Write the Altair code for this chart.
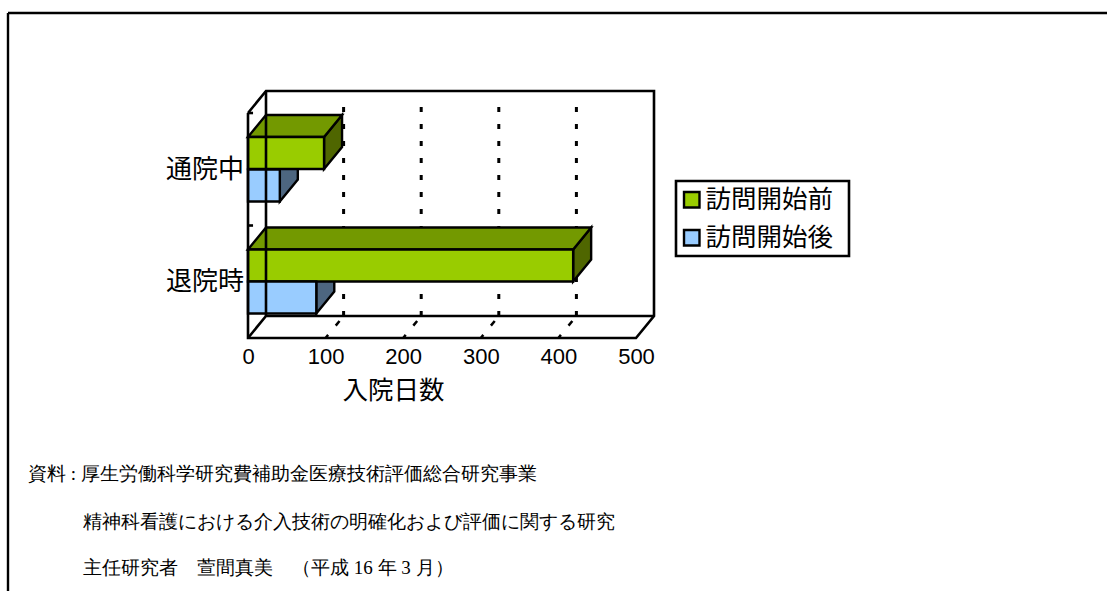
import altair as alt
import pandas as pd

# Hospital stay (days) by patient group, before and after home visits began
categories = ["通院中", "退院時"]
series = ["訪問開始前", "訪問開始後"]
values_before = [98, 419]
values_after = [41, 88]
x_ticks = [0, 100, 200, 300, 400, 500]
grid_ticks = [100, 200, 300, 400]
footnotes = [
    "資料 : 厚生労働科学研究費補助金医療技術評価総合研究事業",
    "精神科看護における介入技術の明確化および評価に関する研究",
    "主任研究者　萱間真美　（平成 16 年 3 月）",
]
footnote_x = [-220, -165, -165]
footnote_y = [382.5, 431, 477]

front_colors = ["#99CC00", "#99CCFF"]
top_color = "#739900"
side_colors = ["#4F6600", "#4D6680"]

# Plot geometry: pixels per day, and the oblique depth of the 3-D box
PX_PER_DAY = 388 / 500
DEPTH_PX_X = 18
DEPTH_PX_Y = 22
WALL_H = 225
PLOT_W = 388 + DEPTH_PX_X
PLOT_H = WALL_H + DEPTH_PX_Y
DX = DEPTH_PX_X / PX_PER_DAY
X_MAX = PLOT_W / PX_PER_DAY

x_scale = alt.Scale(domain=[0, X_MAX], range=[0, PLOT_W], nice=False, zero=False)
y_scale = alt.Scale(domain=[0, PLOT_H], range=[PLOT_H, 0], nice=False, zero=False)
x_axis = alt.Axis(
    values=x_ticks, domain=False, ticks=False, grid=False, title="入院日数",
    labelFont="Liberation Sans", labelFontSize=22, labelColor="black", labelPadding=8,
    labelOverlap=False, labelFlush=False, format="d",
    titleFont="Noto Sans CJK JP", titleFontSize=25.5, titleFontWeight="normal",
    titleColor="black", titlePadding=11, titleX=145,
)
X = lambda f="x": alt.X(f"{f}:Q", scale=x_scale, axis=x_axis)
Y = lambda f="y": alt.Y(f"{f}:Q", scale=y_scale, axis=None)

# Height above the front floor edge of each bar's lower edge
row_floor = {"通院中": {"訪問開始前": 169, "訪問開始後": 136.5},
             "退院時": {"訪問開始前": 56.5, "訪問開始後": 24.5}}
BAR_H = 32
EDGE = 2.4

bars = []
for cat, before, after in zip(categories, values_before, values_after):
    bars.append(dict(cat=cat, series=series[0], v=before, low=row_floor[cat][series[0]]))
    bars.append(dict(cat=cat, series=series[1], v=after, low=row_floor[cat][series[1]]))
bars = pd.DataFrame(bars)
bars["high"] = bars["low"] + BAR_H
bars["zero"] = 0


def side_layer(name, color):
    rows = []
    for i, row in enumerate(bars[bars.series == name].itertuples()):
        rows.append(dict(x=row.v, y=row.low, y2=row.high, bar=i))
        rows.append(dict(x=row.v + DX, y=row.low + DEPTH_PX_Y, y2=row.high + DEPTH_PX_Y, bar=i))
    return alt.Chart(pd.DataFrame(rows)).mark_area(
        orient="vertical", fill=color, stroke="black", strokeWidth=EDGE
    ).encode(x=X(), y=Y(), y2=alt.Y2("y2:Q"), detail="bar:N")


def top_layer(name, color):
    rows = []
    for i, row in enumerate(bars[bars.series == name].itertuples()):
        rows.append(dict(y=row.high, x=0, x2=row.v, bar=i))
        rows.append(dict(y=row.high + DEPTH_PX_Y, x=DX, x2=row.v + DX, bar=i))
    return alt.Chart(pd.DataFrame(rows)).mark_area(
        orient="horizontal", fill=color, stroke="black", strokeWidth=EDGE
    ).encode(x=X(), x2=alt.X2("x2:Q"), y=Y(), detail="bar:N")


# Dotted gridlines on the back wall and on the floor
back_lines = alt.Chart(pd.DataFrame(
    [dict(x=t + DX, y=DEPTH_PX_Y, y2=DEPTH_PX_Y + WALL_H - 12) for t in grid_ticks]
)).mark_rule(color="black", strokeWidth=3, strokeDash=[5, 12]).encode(
    x=X(), y=Y(), y2=alt.Y2("y2:Q")
)
floor_rows = []
for t in grid_ticks:
    floor_rows += [dict(x=t, y=0, g=t), dict(x=t + DX, y=DEPTH_PX_Y, g=t)]
floor_lines = alt.Chart(pd.DataFrame(floor_rows)).mark_line(
    color="black", strokeWidth=2.5, strokeDash=[4, 12, 6, 30]
).encode(x=X(), y=Y(), detail="g:N")

# Outline of the open box: left wall, floor and back wall
box_paths = {
    "outer": [(0, WALL_H), (0, 0), (500, 0), (500 + DX, DEPTH_PX_Y),
              (500 + DX, PLOT_H), (DX, PLOT_H), (0, WALL_H)],
    "floor": [(0, 0), (DX, DEPTH_PX_Y), (500 + DX, DEPTH_PX_Y)],
    "back": [(DX, DEPTH_PX_Y), (DX, PLOT_H)],
    "tick1": [(0, WALL_H), (6.5, WALL_H)],
    "tick2": [(0, WALL_H / 2), (6.5, WALL_H / 2)],
}
box_rows = []
for name, pts in box_paths.items():
    for i, (px, py) in enumerate(pts):
        box_rows.append(dict(path=name, i=i, x=px, y=py))
box = alt.Chart(pd.DataFrame(box_rows)).mark_line(color="black", strokeWidth=2.6).encode(
    x=X(), y=Y(), detail="path:N", order="i:Q"
)

# Front faces carry the legend
fronts = alt.Chart(bars).mark_rect(stroke="black", strokeWidth=EDGE).encode(
    x=X("zero"),
    x2=alt.X2("v:Q"),
    y=Y("low"),
    y2=alt.Y2("high:Q"),
    color=alt.Color("series:N", scale=alt.Scale(domain=series, range=front_colors), legend=alt.Legend(
        title=None, orient="none", legendX=428, legendY=91, padding=5,
        symbolType="square", symbolSize=240, symbolStrokeColor="black", symbolStrokeWidth=2.4,
        symbolOffset=-2, symbolOpacity=1, labelFont="Noto Sans CJK JP", labelFontSize=25.5,
        labelColor="black", labelOffset=1, rowPadding=11, labelLimit=200,
    )),
)

# Border around the legend entries
legend_box = alt.Chart(pd.DataFrame({"a": [0]})).mark_rect(
    fill="white", stroke="black", strokeWidth=2.6
).encode(x=alt.value(428), x2=alt.value(601), y=alt.value(90), y2=alt.value(165))

# Category labels beside the front wall
cat_labels = alt.Chart(pd.DataFrame({
    "cat": categories,
    "y": [row_floor["通院中"]["訪問開始後"] + BAR_H, row_floor["退院時"]["訪問開始後"] + BAR_H],
})).mark_text(align="right", baseline="middle", font="Noto Sans CJK JP", fontSize=26, color="black").encode(
    x=alt.value(-4), y=Y(), text="cat:N"
)

# Source notes and the surrounding frame live outside the plot area
notes = [
    alt.Chart(pd.DataFrame({"text": [line]})).mark_text(
        align="left", baseline="middle", font="Liberation Serif", fontSize=19, color="black"
    ).encode(x=alt.value(px), y=alt.value(py), text="text:N")
    for line, px, py in zip(footnotes, footnote_x, footnote_y)
]
frame_style = dict(color="black", strokeWidth=2.4)
frame_top = alt.Chart(pd.DataFrame({"a": [0]})).mark_rule(**frame_style).encode(
    x=alt.value(-240), x2=alt.value(900), y=alt.value(-78)
)
frame_left = alt.Chart(pd.DataFrame({"a": [0]})).mark_rule(**frame_style).encode(
    x=alt.value(-240), y=alt.value(-78), y2=alt.value(500)
)

chart = alt.layer(
    back_lines,
    floor_lines,
    side_layer(series[1], side_colors[1]),
    side_layer(series[0], side_colors[0]),
    top_layer(series[0], top_color),
    legend_box,
    fronts,
    box,
    cat_labels,
    frame_top,
    frame_left,
    *notes,
).properties(
    width=PLOT_W,
    height=PLOT_H,
    padding={"left": 248, "top": 91, "right": 453, "bottom": 253},
    autosize=alt.AutoSizeParams(type="none"),
    background="white",
).configure_view(stroke=None)

chart.save("out.html", embed_options={"renderer": "svg", "actions": False})
